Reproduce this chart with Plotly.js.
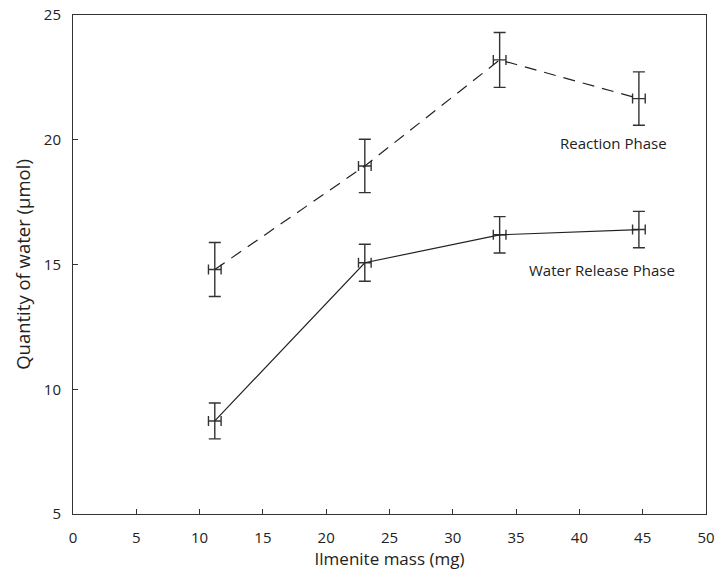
<!DOCTYPE html>
<html>
<head>
<meta charset="utf-8">
<script src="https://cdn.plot.ly/plotly-3.0.1.min.js"></script>
<style>html,body{margin:0;padding:0;background:#fff;}#chart{width:717px;height:573px;}</style>
</head>
<body>
<div id="chart"></div>
<script>
var massMg = [11.2, 23.05, 33.7, 44.7];
var massErr = [0.5, 0.5, 0.5, 0.5];
var reactionWater = [14.8, 18.95, 23.2, 21.65];
var reactionErr = [1.08, 1.07, 1.1, 1.07];
var releaseWater = [8.73, 15.07, 16.19, 16.4];
var releaseErr = [0.72, 0.74, 0.73, 0.73];
var xTicks = [0, 5, 10, 15, 20, 25, 30, 35, 40, 45, 50];
var yTicks = [5, 10, 15, 20, 25];
var labelReaction = "Reaction Phase";
var labelRelease = "Water Release Phase";

var lineColor = '#222';
function trace(y, ey, dash) {
  return {
    x: massMg, y: y, type: 'scatter', mode: 'lines',
    line: {color: lineColor, width: 1.2, dash: dash},
    error_y: {type: 'data', array: ey, visible: true, color: '#333', thickness: 1.4, width: 6},
    error_x: {type: 'data', array: massErr, visible: true, color: '#333', thickness: 1.4, width: 5},
    showlegend: false, hoverinfo: 'skip'
  };
}
var data = [trace(reactionWater, reactionErr, '12px,8px'), trace(releaseWater, releaseErr, 'solid')];
var fam = 'Open Sans, Lato, sans-serif';
var layout = {
  width: 717, height: 573,
  margin: {l: 73, r: 11, t: 15, b: 59},
  paper_bgcolor: '#fff', plot_bgcolor: '#fff',
  font: {family: fam, size: 15, color: '#222'},
  xaxis: {
    range: [0, 50], tickvals: xTicks, ticktext: xTicks.map(String),
    ticks: 'inside', ticklen: 5, tickcolor: '#333', tickwidth: 1,
    ticklabelstandoff: 10, ticklabeloverflow: 'allow',
    showline: true, linecolor: '#333', linewidth: 1, mirror: true,
    showgrid: false, zeroline: false, automargin: false,
    title: {text: 'Ilmenite mass (mg)', font: {family: fam, size: 17, color: '#222'}, standoff: 7},
    tickfont: {family: fam, size: 15, color: '#222'}
  },
  yaxis: {
    range: [5, 25], tickvals: yTicks, ticktext: yTicks.map(String),
    ticks: 'inside', ticklen: 5, tickcolor: '#333', tickwidth: 1,
    ticklabelstandoff: 8, ticklabeloverflow: 'allow',
    showline: true, linecolor: '#333', linewidth: 1, mirror: true,
    showgrid: false, zeroline: false, automargin: false,
    title: {text: 'Quantity of water (µmol)', font: {family: fam, size: 18.5, color: '#222'}, standoff: 8},
    tickfont: {family: fam, size: 15, color: '#222'}
  },
  annotations: [
    {x: 42.7, y: 19.87, xref: 'x', yref: 'y', text: labelReaction, showarrow: false, xanchor: 'center', yanchor: 'middle', font: {family: fam, size: 15, color: '#222'}},
    {x: 41.8, y: 14.78, xref: 'x', yref: 'y', text: labelRelease, showarrow: false, xanchor: 'center', yanchor: 'middle', font: {family: fam, size: 15, color: '#222'}}
  ]
};
Plotly.newPlot('chart', data, layout, {displayModeBar: false, staticPlot: true});
</script>
</body>
</html>
